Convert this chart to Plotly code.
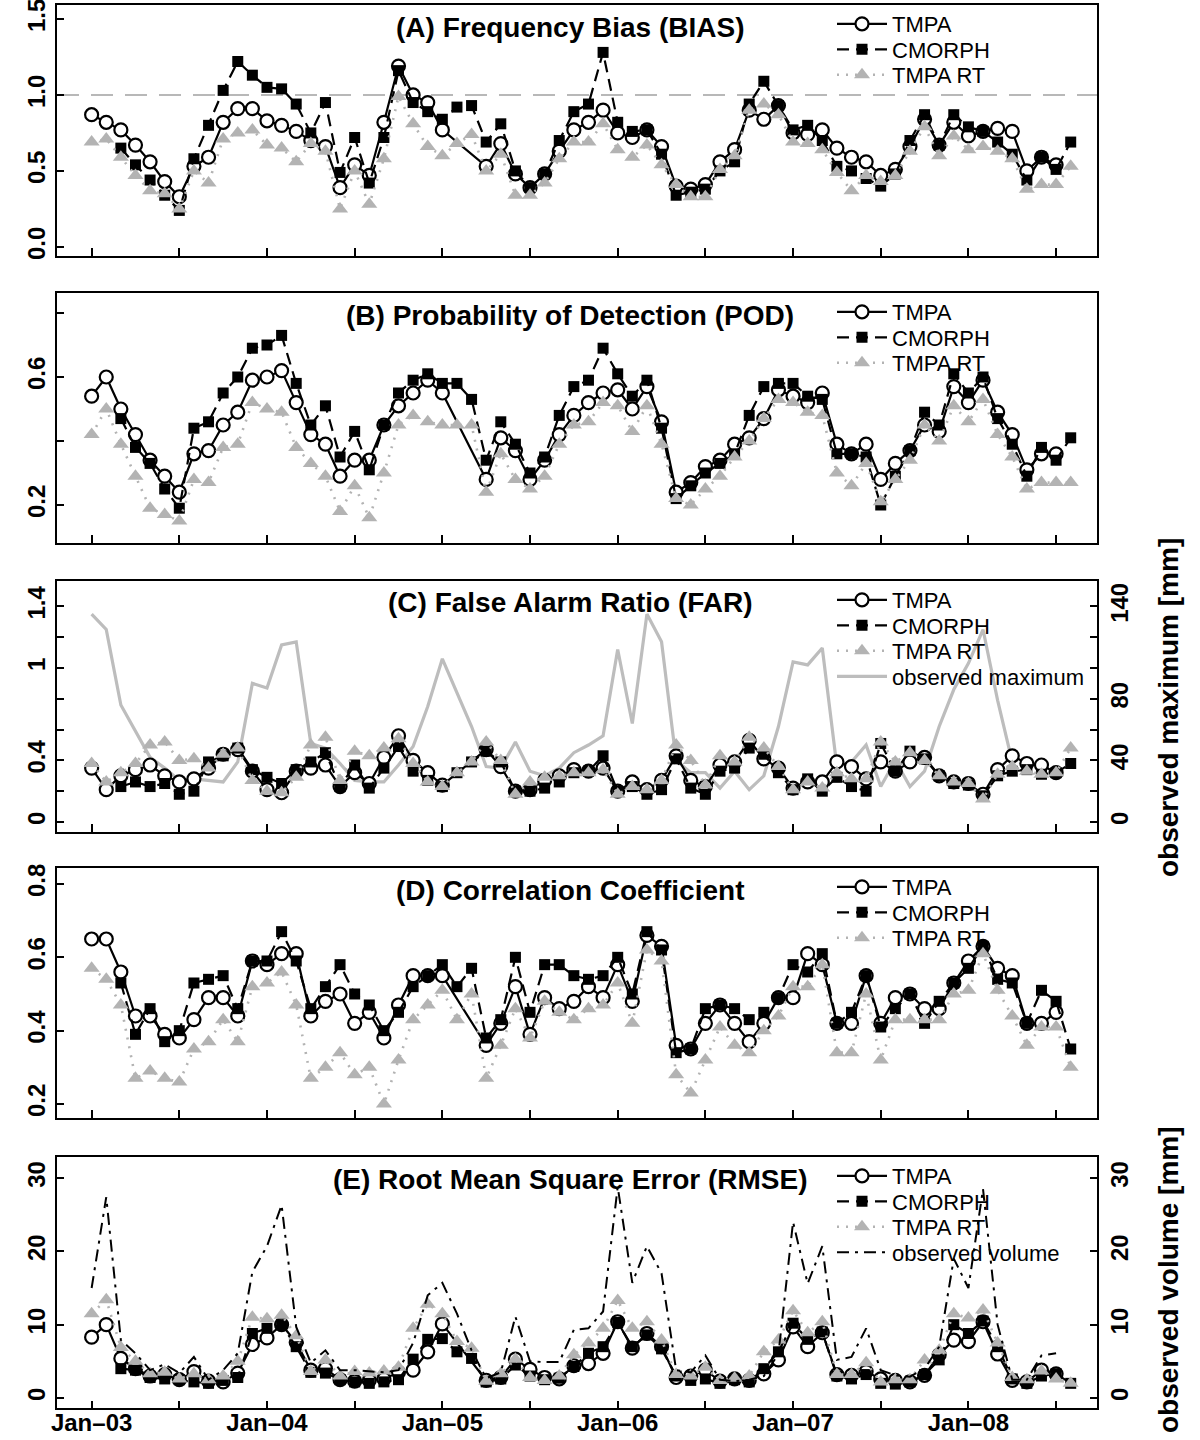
import plotly.graph_objects as go

# ---------------- data ----------------
N_MONTHS = 68
month_index = list(range(N_MONTHS))  # Jan-03 ... Aug-08 (monthly)
tick_months = list(range(0, 67, 6))
tick_labels = ["Jan–03", "", "Jan–04", "", "Jan–05", "", "Jan–06", "", "Jan–07", "", "Jan–08", ""]

# (A) Frequency bias
bias_tmpa = [0.87, 0.82, 0.77, 0.67, 0.56, 0.43, 0.33, 0.53, 0.59, 0.82, 0.91, 0.91, 0.83, 0.80, 0.76, 0.70, 0.66,
             0.39, 0.54, 0.47, 0.82, 1.19, 1.00, 0.95, 0.77, None, None, 0.53, 0.68, 0.48, 0.39, 0.48, 0.63, 0.77,
             0.82, 0.90, 0.75, 0.72, 0.77, 0.66, 0.40, 0.38, 0.41, 0.56, 0.64, 0.90, 0.84, 0.93, 0.75, 0.74, 0.77,
             0.65, 0.59, 0.56, 0.47, 0.51, 0.66, 0.84, 0.67, 0.82, 0.73, 0.76, 0.78, 0.76, 0.50, 0.59, 0.54, None]
bias_cmorph = [None, None, 0.65, 0.54, 0.44, 0.34, 0.24, 0.58, 0.80, 1.03, 1.22, 1.13, 1.05, 1.04, 0.94, 0.75, 0.95,
               0.49, 0.72, 0.42, 0.72, 1.16, 0.95, 0.89, 0.84, 0.92, 0.93, 0.69, 0.81, 0.50, 0.39, 0.48, 0.70, 0.89,
               0.94, 1.28, 0.82, 0.76, 0.77, 0.61, 0.34, 0.36, 0.38, 0.50, 0.56, 0.94, 1.09, 0.93, 0.77, 0.80, 0.70,
               0.53, 0.50, 0.45, 0.40, 0.48, 0.70, 0.87, 0.67, 0.87, 0.79, 0.76, 0.69, 0.61, 0.44, 0.59, 0.51, 0.69]
bias_rt = [0.69, 0.71, 0.59, 0.47, 0.37, 0.35, 0.25, 0.50, 0.42, 0.71, 0.75, 0.77, 0.67, 0.65, 0.56, 0.68, 0.63,
           0.25, 0.50, 0.28, 0.58, 0.99, 0.81, 0.66, 0.60, 0.68, 0.74, 0.50, 0.61, 0.34, 0.34, 0.42, 0.58, 0.69,
           0.69, 0.81, 0.64, 0.59, 0.67, 0.54, 0.41, 0.33, 0.33, 0.51, 0.60, 0.90, 0.94, 0.87, 0.69, 0.68, 0.64,
           0.49, 0.37, 0.47, 0.43, 0.47, 0.63, 0.79, 0.60, 0.73, 0.64, 0.66, 0.63, 0.58, 0.38, 0.41, 0.41, 0.53]

# (B) Probability of detection
pod_tmpa = [0.54, 0.60, 0.50, 0.42, 0.34, 0.29, 0.24, 0.36, 0.37, 0.45, 0.49, 0.59, 0.60, 0.62, 0.52, 0.42, 0.39,
            0.29, 0.34, 0.34, 0.45, 0.51, 0.55, 0.59, 0.55, None, None, 0.28, 0.41, 0.37, 0.28, 0.34, 0.42, 0.48,
            0.52, 0.55, 0.56, 0.50, 0.57, 0.46, 0.24, 0.27, 0.32, 0.34, 0.39, 0.41, 0.47, 0.56, 0.54, 0.52, 0.55,
            0.39, 0.36, 0.39, 0.28, 0.33, 0.37, 0.45, 0.43, 0.57, 0.52, 0.59, 0.49, 0.42, 0.31, 0.36, 0.36, None]
pod_cmorph = [None, None, 0.47, 0.38, 0.33, 0.25, 0.19, 0.44, 0.46, 0.55, 0.60, 0.69, 0.70, 0.73, 0.58, 0.45, 0.51,
              0.35, 0.43, 0.31, 0.45, 0.55, 0.59, 0.61, 0.58, 0.58, 0.53, 0.34, 0.46, 0.39, 0.30, 0.35, 0.48, 0.57,
              0.59, 0.69, 0.61, 0.54, 0.59, 0.44, 0.22, 0.26, 0.30, 0.33, 0.36, 0.48, 0.57, 0.58, 0.58, 0.54, 0.53,
              0.36, 0.36, 0.35, 0.20, 0.29, 0.37, 0.49, 0.45, 0.61, 0.55, 0.60, 0.47, 0.39, 0.29, 0.38, 0.34, 0.41]
pod_rt = [0.42, 0.50, 0.39, 0.29, 0.19, 0.17, 0.15, 0.28, 0.27, 0.38, 0.39, 0.52, 0.50, 0.49, 0.38, 0.33, 0.29,
          0.18, 0.26, 0.16, 0.30, 0.45, 0.48, 0.46, 0.45, 0.45, 0.45, 0.24, 0.36, 0.28, 0.25, 0.29, 0.39, 0.45,
          0.46, 0.52, 0.51, 0.43, 0.51, 0.39, 0.22, 0.20, 0.25, 0.29, 0.35, 0.40, 0.47, 0.53, 0.52, 0.49, 0.48,
          0.30, 0.26, 0.33, 0.21, 0.28, 0.34, 0.45, 0.40, 0.51, 0.46, 0.53, 0.42, 0.35, 0.25, 0.27, 0.27, 0.27]

# (C) False alarm ratio + observed maximum [mm]
far_tmpa = [0.35, 0.21, 0.30, 0.34, 0.37, 0.30, 0.26, 0.28, 0.35, 0.44, 0.47, 0.33, 0.21, 0.19, 0.33, 0.35, 0.37,
            0.23, 0.32, 0.25, 0.42, 0.56, 0.40, 0.32, 0.24, None, None, 0.47, 0.36, 0.20, 0.21, 0.27, 0.30, 0.34,
            0.33, 0.35, 0.20, 0.26, 0.21, 0.27, 0.43, 0.27, 0.23, 0.37, 0.39, 0.53, 0.41, 0.35, 0.22, 0.26, 0.26,
            0.39, 0.36, 0.28, 0.39, 0.33, 0.39, 0.42, 0.30, 0.26, 0.25, 0.18, 0.34, 0.43, 0.38, 0.37, 0.32, None]
far_cmorph = [None, None, 0.23, 0.26, 0.23, 0.25, 0.18, 0.20, 0.39, 0.43, 0.48, 0.34, 0.29, 0.25, 0.34, 0.39, 0.45,
              0.23, 0.37, 0.22, 0.35, 0.49, 0.33, 0.27, 0.23, 0.32, 0.39, 0.46, 0.39, 0.20, 0.20, 0.22, 0.26, 0.32,
              0.33, 0.43, 0.20, 0.23, 0.18, 0.21, 0.41, 0.22, 0.18, 0.33, 0.35, 0.48, 0.44, 0.32, 0.21, 0.28, 0.20,
              0.29, 0.23, 0.20, 0.51, 0.33, 0.46, 0.41, 0.30, 0.25, 0.24, 0.17, 0.30, 0.33, 0.34, 0.31, 0.32, 0.38]
far_rt = [0.38, 0.26, 0.32, 0.38, 0.50, 0.52, 0.40, 0.41, 0.35, 0.44, 0.48, 0.27, 0.20, 0.19, 0.29, 0.50, 0.55,
          0.27, 0.46, 0.43, 0.48, 0.54, 0.38, 0.26, 0.23, 0.32, 0.39, 0.52, 0.40, 0.18, 0.26, 0.29, 0.30, 0.32,
          0.32, 0.34, 0.18, 0.23, 0.21, 0.27, 0.50, 0.40, 0.24, 0.43, 0.39, 0.55, 0.48, 0.36, 0.21, 0.26, 0.22,
          0.32, 0.28, 0.28, 0.52, 0.39, 0.45, 0.40, 0.30, 0.26, 0.25, 0.15, 0.31, 0.36, 0.33, 0.31, 0.32, 0.48]
obs_maximum = [135, 125, 76, 59, 42, 35, 27, 28, 27, 26, 39, 90, 87, 115, 117, 51, 48, 38, 27, 26, 26, 37, 49, 75,
               106, 84, 62, 36, 35, 52, 33, 30, 35, 45, 50, 56, 112, 64, 135, 117, 40, 32, 32, 22, 33, 21, 30, 62,
               104, 102, 113, 36, 39, 50, 23, 40, 23, 33, 62, 86, 103, 125, 79, 39, None, None, None, None]

# (D) Correlation coefficient
cc_tmpa = [0.65, 0.65, 0.56, 0.44, 0.44, 0.39, 0.38, 0.43, 0.49, 0.49, 0.44, 0.59, 0.58, 0.61, 0.61, 0.44, 0.48,
           0.50, 0.42, 0.45, 0.38, 0.47, 0.55, 0.55, 0.55, None, None, 0.36, 0.42, 0.52, 0.39, 0.49, 0.46, 0.48,
           0.52, 0.49, 0.58, 0.48, 0.66, 0.63, 0.36, 0.35, 0.42, 0.47, 0.42, 0.37, 0.42, 0.49, 0.49, 0.61, 0.58,
           0.42, 0.42, 0.55, 0.42, 0.49, 0.50, 0.46, 0.46, 0.53, 0.59, 0.63, 0.57, 0.55, 0.42, 0.42, 0.45, None]
cc_cmorph = [None, None, 0.53, 0.39, 0.46, 0.37, 0.40, 0.53, 0.54, 0.55, 0.46, 0.59, 0.59, 0.67, 0.59, 0.46, 0.52,
             0.58, 0.50, 0.47, 0.40, 0.45, 0.52, 0.55, 0.58, 0.52, 0.57, 0.38, 0.43, 0.60, 0.45, 0.58, 0.58, 0.55,
             0.54, 0.55, 0.60, 0.50, 0.67, 0.62, 0.34, 0.35, 0.46, 0.47, 0.46, 0.43, 0.45, 0.49, 0.58, 0.56, 0.61,
             0.42, 0.45, 0.55, 0.41, 0.46, 0.50, 0.42, 0.48, 0.53, 0.57, 0.63, 0.54, 0.53, 0.42, 0.51, 0.48, 0.35]
cc_rt = [0.57, 0.54, 0.47, 0.27, 0.29, 0.27, 0.26, 0.35, 0.37, 0.43, 0.37, 0.52, 0.53, 0.56, 0.47, 0.27, 0.30,
         0.34, 0.28, 0.30, 0.20, 0.32, 0.43, 0.47, 0.51, 0.43, 0.50, 0.27, 0.36, 0.46, 0.38, 0.48, 0.45, 0.43,
         0.46, 0.47, 0.53, 0.42, 0.62, 0.59, 0.28, 0.23, 0.32, 0.41, 0.36, 0.34, 0.40, 0.44, 0.52, 0.52, 0.58,
         0.34, 0.34, 0.50, 0.32, 0.43, 0.43, 0.43, 0.43, 0.50, 0.51, 0.61, 0.51, 0.44, 0.36, 0.41, 0.41, 0.30]

# (E) RMSE + observed volume [mm]
rmse_tmpa = [8.3, 10.0, 5.4, 4.0, 3.0, 3.2, 2.5, 3.6, 2.3, 2.2, 3.4, 7.3, 8.2, 10.0, 7.6, 3.8, 4.0, 2.5, 2.3, 2.4,
             2.6, 3.5, 3.8, 6.3, 10.1, None, None, 2.4, 2.8, 5.3, 3.9, 2.8, 2.6, 4.4, 4.7, 6.1, 10.4, 6.8, 8.8, 7.0,
             2.8, 3.0, 3.8, 2.3, 2.6, 2.4, 3.3, 5.2, 9.7, 7.0, 8.9, 3.2, 3.1, 3.6, 2.6, 2.4, 2.2, 3.1, 5.9, 7.9,
             7.7, 10.4, 6.0, 2.4, 2.2, 3.8, 3.3, None]
rmse_cmorph = [None, None, 4.0, 3.8, 2.8, 2.6, 2.5, 2.2, 2.0, 2.4, 2.8, 8.8, 9.5, 10.0, 7.0, 3.5, 3.4, 2.5, 2.2,
               2.0, 2.2, 2.5, 5.3, 8.0, 8.1, 6.3, 5.4, 2.2, 2.6, 4.5, 3.0, 2.5, 2.7, 4.3, 6.1, 7.0, 10.3, 7.0, 8.6,
               6.7, 3.0, 2.4, 2.6, 2.0, 2.5, 2.2, 4.0, 6.3, 10.2, 8.0, 9.0, 3.0, 2.6, 3.2, 2.0, 1.9, 2.2, 3.2, 5.2,
               10.0, 8.8, 10.5, 7.0, 2.6, 2.0, 3.0, 3.3, 2.0]
rmse_rt = [11.5, 13.4, 6.9, 5.0, 3.3, 3.5, 2.6, 3.3, 2.5, 3.0, 5.0, 11.0, 10.8, 11.3, 8.5, 3.6, 5.2, 3.0, 3.6, 3.4,
           3.7, 4.2, 9.5, 12.8, 11.5, 7.7, 6.8, 2.3, 3.3, 5.3, 2.8, 2.4, 3.0, 5.9, 7.5, 9.5, 13.3, 9.5, 10.4, 7.9,
           3.2, 3.0, 4.2, 2.4, 2.7, 3.0, 6.3, 7.9, 11.9, 8.9, 10.4, 3.2, 3.2, 4.8, 2.2, 2.5, 2.5, 5.2, 6.5, 11.5,
           10.9, 12.0, 7.5, 2.8, 2.5, 3.7, 2.6, 2.0]
obs_volume = [15.0, 27.4, 7.9, 6.1, 3.8, 4.6, 3.4, 5.6, 2.5, 3.8, 6.1, 17.2, 20.7, 26.3, 9.7, 4.8, 6.5, 3.8, 3.8,
              3.6, 3.5, 3.8, 7.5, 14.0, 15.7, 11.5, 6.5, 2.7, 3.5, 11.1, 5.0, 4.9, 4.9, 9.3, 9.5, 11.8, 28.8, 15.7,
              20.7, 17.0, 3.8, 3.5, 5.8, 2.5, 2.3, 2.5, 3.0, 6.0, 24.0, 15.6, 20.7, 5.2, 5.6, 9.5, 3.8, 3.1, 2.9,
              4.0, 7.0, 19.0, 15.0, 28.5, 10.0, 2.5, 2.5, 5.8, 6.1, None]

for arr in [bias_tmpa, bias_cmorph, bias_rt, pod_tmpa, pod_cmorph, pod_rt, far_tmpa, far_cmorph, far_rt,
            obs_maximum, cc_tmpa, cc_cmorph, cc_rt, rmse_tmpa, rmse_cmorph, rmse_rt, obs_volume]:
    assert len(arr) == N_MONTHS, len(arr)

# ---------------- styling ----------------
W, H = 1200, 1440
FONT = "Liberation Sans"
GRAY = "#b3b3b3"
X_DOMAIN = [57 / W, 1097 / W]
X_RANGE = [-2.37, 68.8]
LEG_X = 832 / W


def yp(px):
    return 1 - px / H


fig = go.Figure()
legends = {}


def new_legend(center_px):
    n = len(legends) + 1
    name = "legend" if n == 1 else f"legend{n}"
    legends[name] = dict(x=LEG_X, xanchor="left", y=yp(center_px), yanchor="middle",
                         bgcolor="rgba(0,0,0,0)", borderwidth=0, itemwidth=50,
                         font=dict(family=FONT, size=22, color="black"))
    return name


def add_metric_traces(xa, ya, tmpa, cmorph, rt, top_px):
    fig.add_trace(go.Scatter(
        x=month_index, y=tmpa, name="TMPA", mode="lines+markers", connectgaps=True,
        xaxis=xa, yaxis=ya, legend=new_legend(top_px + 19),
        line=dict(color="black", width=2.2),
        marker=dict(symbol="circle", size=13, color="white", line=dict(color="black", width=2.2))))
    fig.add_trace(go.Scatter(
        x=month_index, y=cmorph, name="CMORPH", mode="lines+markers",
        xaxis=xa, yaxis=ya, legend=new_legend(top_px + 44.5),
        line=dict(color="black", width=2.2, dash="12px,7px"),
        marker=dict(symbol="square", size=11, color="black")))
    fig.add_trace(go.Scatter(
        x=month_index, y=rt, name="TMPA RT", mode="lines+markers",
        xaxis=xa, yaxis=ya, legend=new_legend(top_px + 70),
        line=dict(color=GRAY, width=2.6, dash="2px,7px"),
        marker=dict(symbol="triangle-up", size=14, color=GRAY)))


PANELS = [(5, 256), (293, 543), (581, 832), (868, 1118), (1157, 1408)]
TITLES = ["(A) Frequency Bias (BIAS)", "(B) Probability of Detection (POD)", "(C) False Alarm Ratio (FAR)",
          "(D) Correlation Coefficient", "(E) Root Mean Square Error (RMSE)"]

add_metric_traces("x", "y", bias_tmpa, bias_cmorph, bias_rt, PANELS[0][0])
add_metric_traces("x2", "y2", pod_tmpa, pod_cmorph, pod_rt, PANELS[1][0])
# Panel C: observed maximum on base axis y3 (drawn behind); FAR on overlay y6
add_metric_traces("x3", "y6", far_tmpa, far_cmorph, far_rt, PANELS[2][0])
fig.add_trace(go.Scatter(x=month_index, y=obs_maximum, name="observed maximum", mode="lines",
                         xaxis="x3", yaxis="y3", legend=new_legend(PANELS[2][0] + 95.5),
                         line=dict(color="#bdbdbd", width=3.2)))
add_metric_traces("x4", "y4", cc_tmpa, cc_cmorph, cc_rt, PANELS[3][0])
add_metric_traces("x5", "y5", rmse_tmpa, rmse_cmorph, rmse_rt, PANELS[4][0])
fig.add_trace(go.Scatter(x=month_index, y=obs_volume, name="observed volume", mode="lines",
                         xaxis="x5", yaxis="y7", legend=new_legend(PANELS[4][0] + 95.5),
                         line=dict(color="black", width=2, dash="12px,6px,3px,6px")))

tickfont = dict(family=FONT, size=24, color="black", weight="bold")
axis_common = dict(showline=True, linecolor="black", linewidth=2, mirror=True, showgrid=False,
                   zeroline=False, ticks="inside", ticklen=7, tickwidth=1.5, tickcolor="black",
                   tickfont=tickfont, fixedrange=True, ticklabeloverflow="allow")

layout = dict(width=W, height=H, margin=dict(l=0, r=0, t=0, b=0), template="none",
              paper_bgcolor="white", plot_bgcolor="white", showlegend=True)

y_specs = {
    1: dict(range=[-0.06, 1.592], tickvals=[0, 0.5, 1.0, 1.5], ticktext=["0.0", "0.5", "1.0", "1.5"]),
    2: dict(range=[0.08125, 0.8625], tickvals=[0.2, 0.4, 0.6, 0.8], ticktext=["0.2", "", "0.6", ""]),
    3: dict(range=[-6.5, 156.5], tickvals=[0, 20, 40, 60, 80, 100, 120, 140],
            ticktext=["0", "", "40", "", "80", "", "", "140"], side="right"),
    4: dict(range=[0.1618, 0.8436], tickvals=[0.2, 0.4, 0.6, 0.8], ticktext=["0.2", "0.4", "0.6", "0.8"]),
    5: dict(range=[-1.36, 32.86], tickvals=[0, 10, 20, 30], ticktext=["0", "10", "20", "30"]),
}

for k, (top, bot) in enumerate(PANELS, start=1):
    xname = "xaxis" if k == 1 else f"xaxis{k}"
    yname = "yaxis" if k == 1 else f"yaxis{k}"
    ya = "y" if k == 1 else f"y{k}"
    xa = dict(axis_common, domain=X_DOMAIN, range=X_RANGE, anchor=ya, tickvals=tick_months,
              ticktext=tick_labels)
    if k < 5:
        xa.update(ticklen=8, showticklabels=False)
    else:
        xa.update(ticklabelstandoff=-8)
    layout[xname] = xa
    layout[yname] = dict(axis_common, domain=[yp(bot), yp(top)], anchor="x" if k == 1 else f"x{k}",
                         tickangle=-90, **y_specs[k])

layout["yaxis6"] = dict(axis_common, overlaying="y3", side="left", anchor="x3", range=[-0.065, 1.565],
                        tickvals=[0, 0.2, 0.4, 0.6, 0.8, 1.0, 1.2, 1.4],
                        ticktext=["0", "", "0.4", "", "", "1", "", "1.4"], tickangle=-90)
layout["yaxis7"] = dict(axis_common, overlaying="y5", side="right", anchor="x5", range=[-1.36, 32.86],
                        tickvals=[0, 10, 20, 30], ticktext=["0", "10", "20", "30"], tickangle=-90)

layout.update(legends)

annotations = []
for (top, bot), title in zip(PANELS, TITLES):
    annotations.append(dict(text=title, x=570 / W, y=yp(top + 22), xref="paper", yref="paper",
                            xanchor="center", yanchor="middle", showarrow=False,
                            font=dict(family=FONT, size=28, color="black", weight="bold")))
annotations.append(dict(text="observed maximum [mm]", x=1168 / W, y=yp(708), xref="paper", yref="paper",
                        textangle=-90, xanchor="center", yanchor="middle", showarrow=False,
                        font=dict(family=FONT, size=28, color="black", weight="bold")))
annotations.append(dict(text="observed volume [mm]", x=1168 / W, y=yp(1280), xref="paper", yref="paper",
                        textangle=-90, xanchor="center", yanchor="middle", showarrow=False,
                        font=dict(family=FONT, size=28, color="black", weight="bold")))
layout["annotations"] = annotations

layout["shapes"] = [dict(type="line", xref="x domain", yref="y", x0=0, x1=1, y0=1.0, y1=1.0, layer="below",
                         line=dict(color="#b8b8b8", width=2, dash="22px,12px"))]

fig.update_layout(layout)
fig.write_html("out.html", config={"displayModeBar": False},
               post_script="document.body.style.margin='0';document.body.style.overflow='hidden';")
